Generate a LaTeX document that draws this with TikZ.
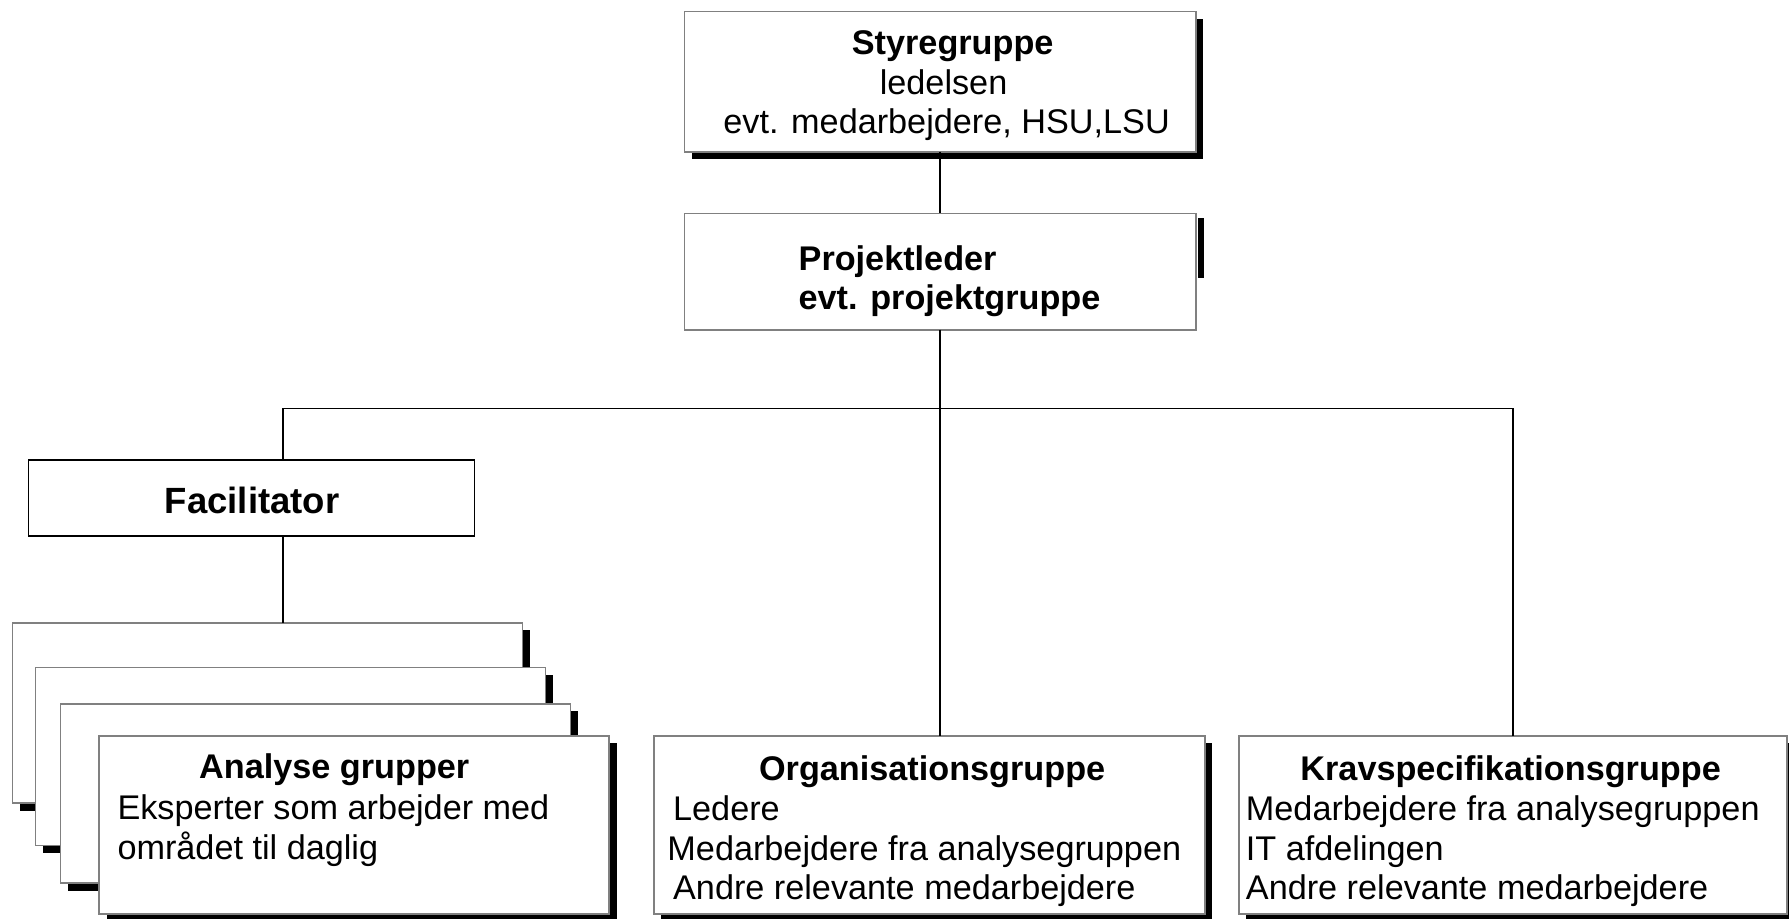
\documentclass[tikz,border=0pt]{standalone}
\usepackage{fontspec}
\setmainfont{Liberation Sans}
\usetikzlibrary{shadows}
\definecolor{framegray}{HTML}{808080}
\begin{document}
\begin{tikzpicture}[x=1pt, y=-1pt,
  every node/.style={inner sep=0pt, outer sep=0pt},
  txt/.style={font=\fontsize{30}{35}\selectfont, anchor=base},
  hd/.style={font=\fontsize{30}{35}\selectfont\bfseries, anchor=base},
  box/.style={rectangle, draw=framegray, line width=1.4pt, fill=white, anchor=north west},
  shade/.style={drop shadow={shadow xshift=6.5pt, shadow yshift=-6.5pt, fill=black, opacity=1}},
  link/.style={draw=black, line width=1.3pt}
]
\fill[white] (0,0) rectangle (1568,805);
\useasboundingbox (0,0) rectangle (1568,805);

% steering group
\node[box, shade, minimum width=448pt, minimum height=123pt] (sty) at (600,10) {};
\node[hd] (styA) at (835,48) {Styregruppe};
\node[txt] (styB) at (827,83) {ledelsen};
\node[txt, anchor=base west] (styC) at (634,117) {evt. medarbejdere, HSU,LSU};

% project lead
\node[box, minimum width=448pt, minimum height=102pt] (pl) at (600,187) {};
\fill ([shift={(2,4.5)}]pl.north east) rectangle ++(5,52);
\node[hd, anchor=base west] (plA) at (700,237) {Projektleder};
\node[hd, anchor=base west] (plB) at (700,271) {evt. projektgruppe};

% facilitator
\node[box, draw=black, minimum width=391pt, minimum height=67pt] (fac) at (25,403) {};
\node[hd, font=\fontsize{32}{35}\selectfont\bfseries] (facA) at (221,450) {Facilitator};

% stacked analysis groups
\node[box, shade, minimum width=447pt, minimum height=158pt] (ag1) at (11,546) {};
\node[box, shade, minimum width=447pt, minimum height=156pt] (ag2) at (31,585) {};
\node[box, shade, minimum width=447pt, minimum height=157pt] (ag3) at (53,617) {};
\node[box, shade, minimum width=447pt, minimum height=156pt] (ag4) at (87,645) {};
\node[hd] (agA) at (293,682) {Analyse grupper};
\node[txt, anchor=base west] (agB) at (103,718) {Eksperter som arbejder med};
\node[txt, anchor=base west] (agC) at (103,753) {området til daglig};

% organisation group
\node[box, shade, minimum width=483pt, minimum height=156pt] (org) at (573,645) {};
\node[hd] (orgA) at (817,684) {Organisationsgruppe};
\node[txt, anchor=base west] (orgB) at (590,719) {Ledere};
\node[txt, anchor=base west] (orgC) at (585,754) {Medarbejdere fra analysegruppen};
\node[txt, anchor=base west] (orgD) at (590,788) {Andre relevante medarbejdere};

% requirements group
\node[box, shade, minimum width=480pt, minimum height=156pt] (krav) at (1086,645) {};
\node[hd] (kravA) at (1324,684) {Kravspecifikationsgruppe};
\node[txt, anchor=base west] (kravB) at (1092,719) {Medarbejdere fra analysegruppen};
\node[txt, anchor=base west] (kravC) at (1092,754) {IT afdelingen};
\node[txt, anchor=base west] (kravD) at (1092,788) {Andre relevante medarbejdere};

% connectors
\coordinate (busL) at (248,358);
\coordinate (busR) at (1326,358);
\draw[link] (sty.south) -- (pl.north);
\draw[link] (pl.south) -- (pl.south |- org.north);
\draw[link] (busL) -- (busR);
\draw[link] (busL) -- (busL |- fac.north);
\draw[link] (busL |- fac.south) -- (busL |- ag1.north);
\draw[link] (busR) -- (krav.north);
\end{tikzpicture}
\end{document}
